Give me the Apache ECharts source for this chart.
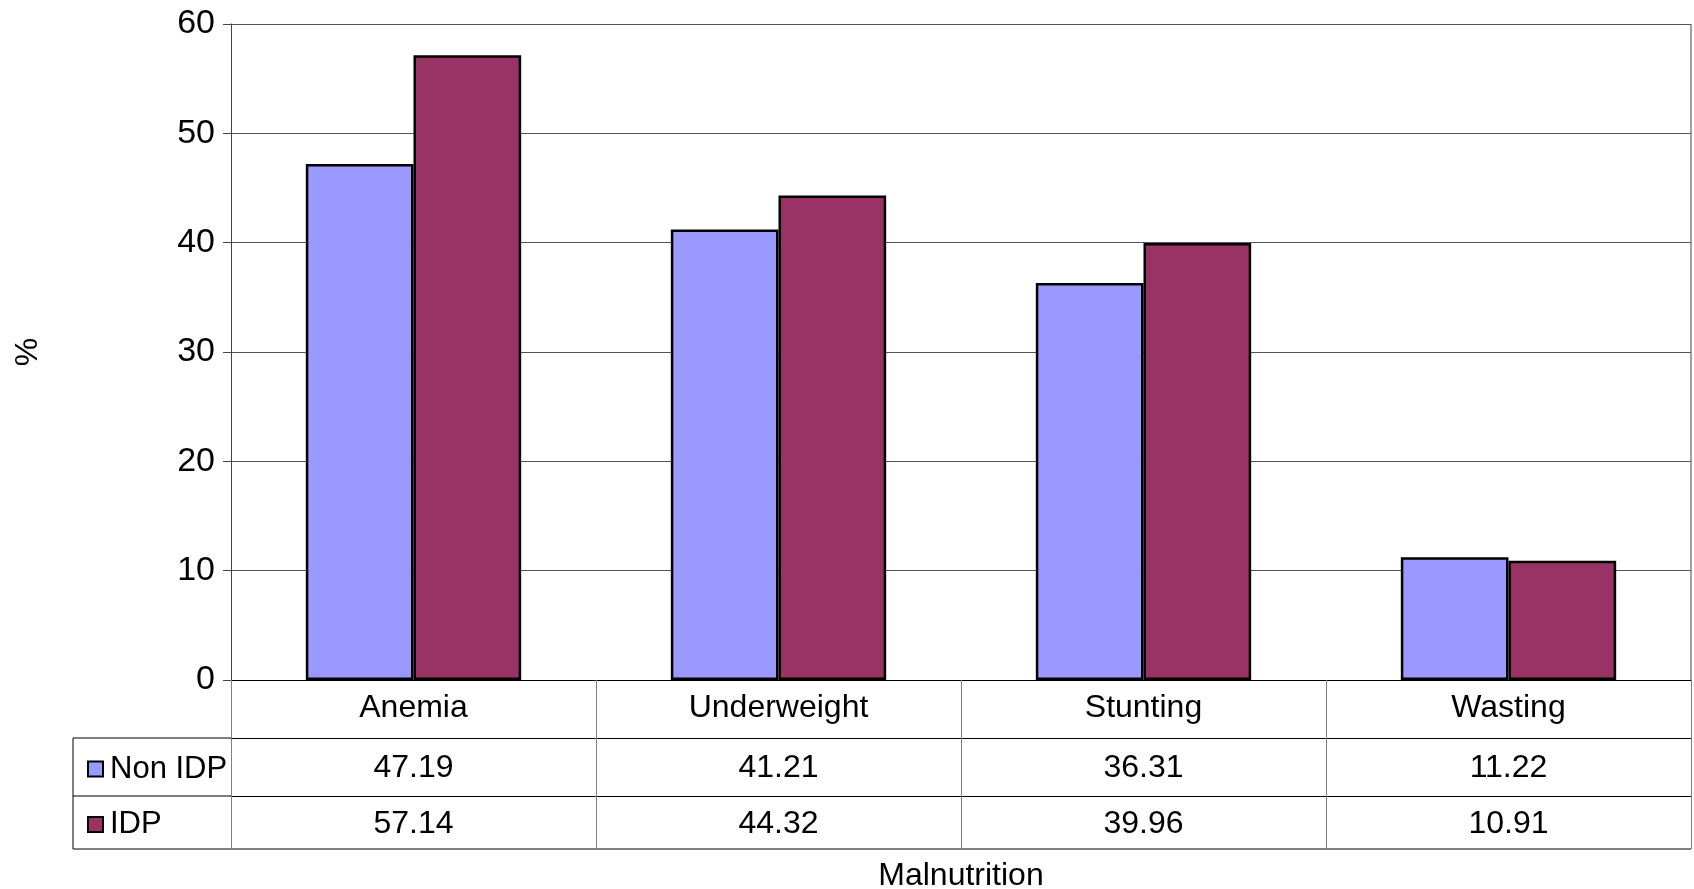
<!DOCTYPE html>
<html>
<head>
<meta charset="utf-8">
<script src="https://cdn.jsdelivr.net/npm/echarts@6/dist/echarts.min.js"></script>
<style>html,body{margin:0;padding:0;background:#fff;}#c{width:1694px;height:889px;}</style>
</head>
<body>
<div id="c"></div>
<script>
const categories = ['Anemia', 'Underweight', 'Stunting', 'Wasting'];
const nonIdp = [47.19, 41.21, 36.31, 11.22];
const idp = [57.14, 44.32, 39.96, 10.91];
const seriesNames = ['Non IDP', 'IDP'];
const yTicks = [0, 10, 20, 30, 40, 50, 60];

const FONT = 'Liberation Sans, Arial, sans-serif';
const FS = 32;
const colors = ['#9999FF', '#993366'];

const chart = echarts.init(document.getElementById('c'));
const L = 231, R = 1691, T = 24, B0 = 680, ROW = 58;
const TL = 73, BOT = 849;

const legendCommon = {
  icon: 'rect', itemWidth: 15, itemHeight: 15, itemGap: 10,
  textStyle: { fontFamily: FONT, fontSize: 31, color: '#000', lineHeight: 34, padding: [0, 0, 0, 2] },
  itemStyle: { borderColor: '#000', borderWidth: 2 }
};

chart.setOption({
  animation: false,
  backgroundColor: '#fff',
  grid: { left: L, right: 1694 - R, top: T, bottom: 889 - B0, containLabel: false, outerBoundsMode: 'none' },
  legend: [
    Object.assign({ data: [seriesNames[0]], left: 82, top: B0 + ROW + ROW / 2 - 20 }, legendCommon),
    Object.assign({ data: [seriesNames[1]], left: 82, top: B0 + 2 * ROW + (BOT - B0 - 2 * ROW) / 2 - 20 }, legendCommon)
  ],
  xAxis: [
    { type: 'category', data: categories, position: 'bottom', gridIndex: 0,
      axisLine: { show: true, lineStyle: { color: '#000', width: 1 } },
      axisTick: { show: true, length: BOT - B0, lineStyle: { color: '#808080', width: 1 } },
      axisLabel: { interval: 0, margin: 12, fontFamily: FONT, fontSize: FS, color: '#000' } },
    { type: 'category', data: nonIdp.map(v => v.toFixed(2)), position: 'bottom', offset: ROW, gridIndex: 0,
      axisLine: { show: true, lineStyle: { color: '#000', width: 1 } },
      axisTick: { show: false },
      axisLabel: { interval: 0, margin: 14, fontFamily: FONT, fontSize: FS, color: '#000' } },
    { type: 'category', data: idp.map(v => v.toFixed(2)), position: 'bottom', offset: ROW * 2, gridIndex: 0,
      axisLine: { show: true, lineStyle: { color: '#000', width: 1 } },
      axisTick: { show: false },
      axisLabel: { interval: 0, margin: 12, fontFamily: FONT, fontSize: FS, color: '#000' },
      name: 'Malnutrition', nameLocation: 'middle', nameGap: 64,
      nameTextStyle: { fontFamily: FONT, fontSize: FS, color: '#000' } }
  ],
  yAxis: {
    type: 'value', min: yTicks[0], max: yTicks[yTicks.length - 1], interval: 10,
    name: '%', nameLocation: 'middle', nameGap: 187,
    nameTextStyle: { fontFamily: FONT, fontSize: FS, color: '#000' },
    axisLine: { show: true, lineStyle: { color: '#444', width: 1 } },
    axisTick: { show: true, length: 8, lineStyle: { color: '#444' } },
    axisLabel: { margin: 16, fontFamily: FONT, fontSize: 34, color: '#000' },
    splitLine: { show: true, lineStyle: { color: '#555', width: 1 } }
  },
  series: [
    { name: seriesNames[0], type: 'bar', data: nonIdp, xAxisIndex: 0, barGap: '0%', barCategoryGap: '41%',
      itemStyle: { color: colors[0], borderColor: '#000', borderWidth: 2.5 } },
    { name: seriesNames[1], type: 'bar', data: idp, xAxisIndex: 0, barGap: '0%', barCategoryGap: '41%',
      itemStyle: { color: colors[1], borderColor: '#000', borderWidth: 2.5 } }
  ],
  graphic: [
    { type: 'line', shape: { x1: TL, y1: B0 + ROW, x2: L, y2: B0 + ROW }, style: { stroke: '#000', lineWidth: 1 } },
    { type: 'line', shape: { x1: TL, y1: B0 + 2 * ROW, x2: L, y2: B0 + 2 * ROW }, style: { stroke: '#000', lineWidth: 1 } },
    { type: 'line', shape: { x1: TL, y1: BOT, x2: R, y2: BOT }, style: { stroke: '#000', lineWidth: 1 } },
    { type: 'line', shape: { x1: TL, y1: B0 + ROW, x2: TL, y2: BOT }, style: { stroke: '#000', lineWidth: 1 } },
    { type: 'line', shape: { x1: R, y1: T, x2: R, y2: B0 }, style: { stroke: '#444', lineWidth: 1 } }
  ]
});
</script>
</body>
</html>
